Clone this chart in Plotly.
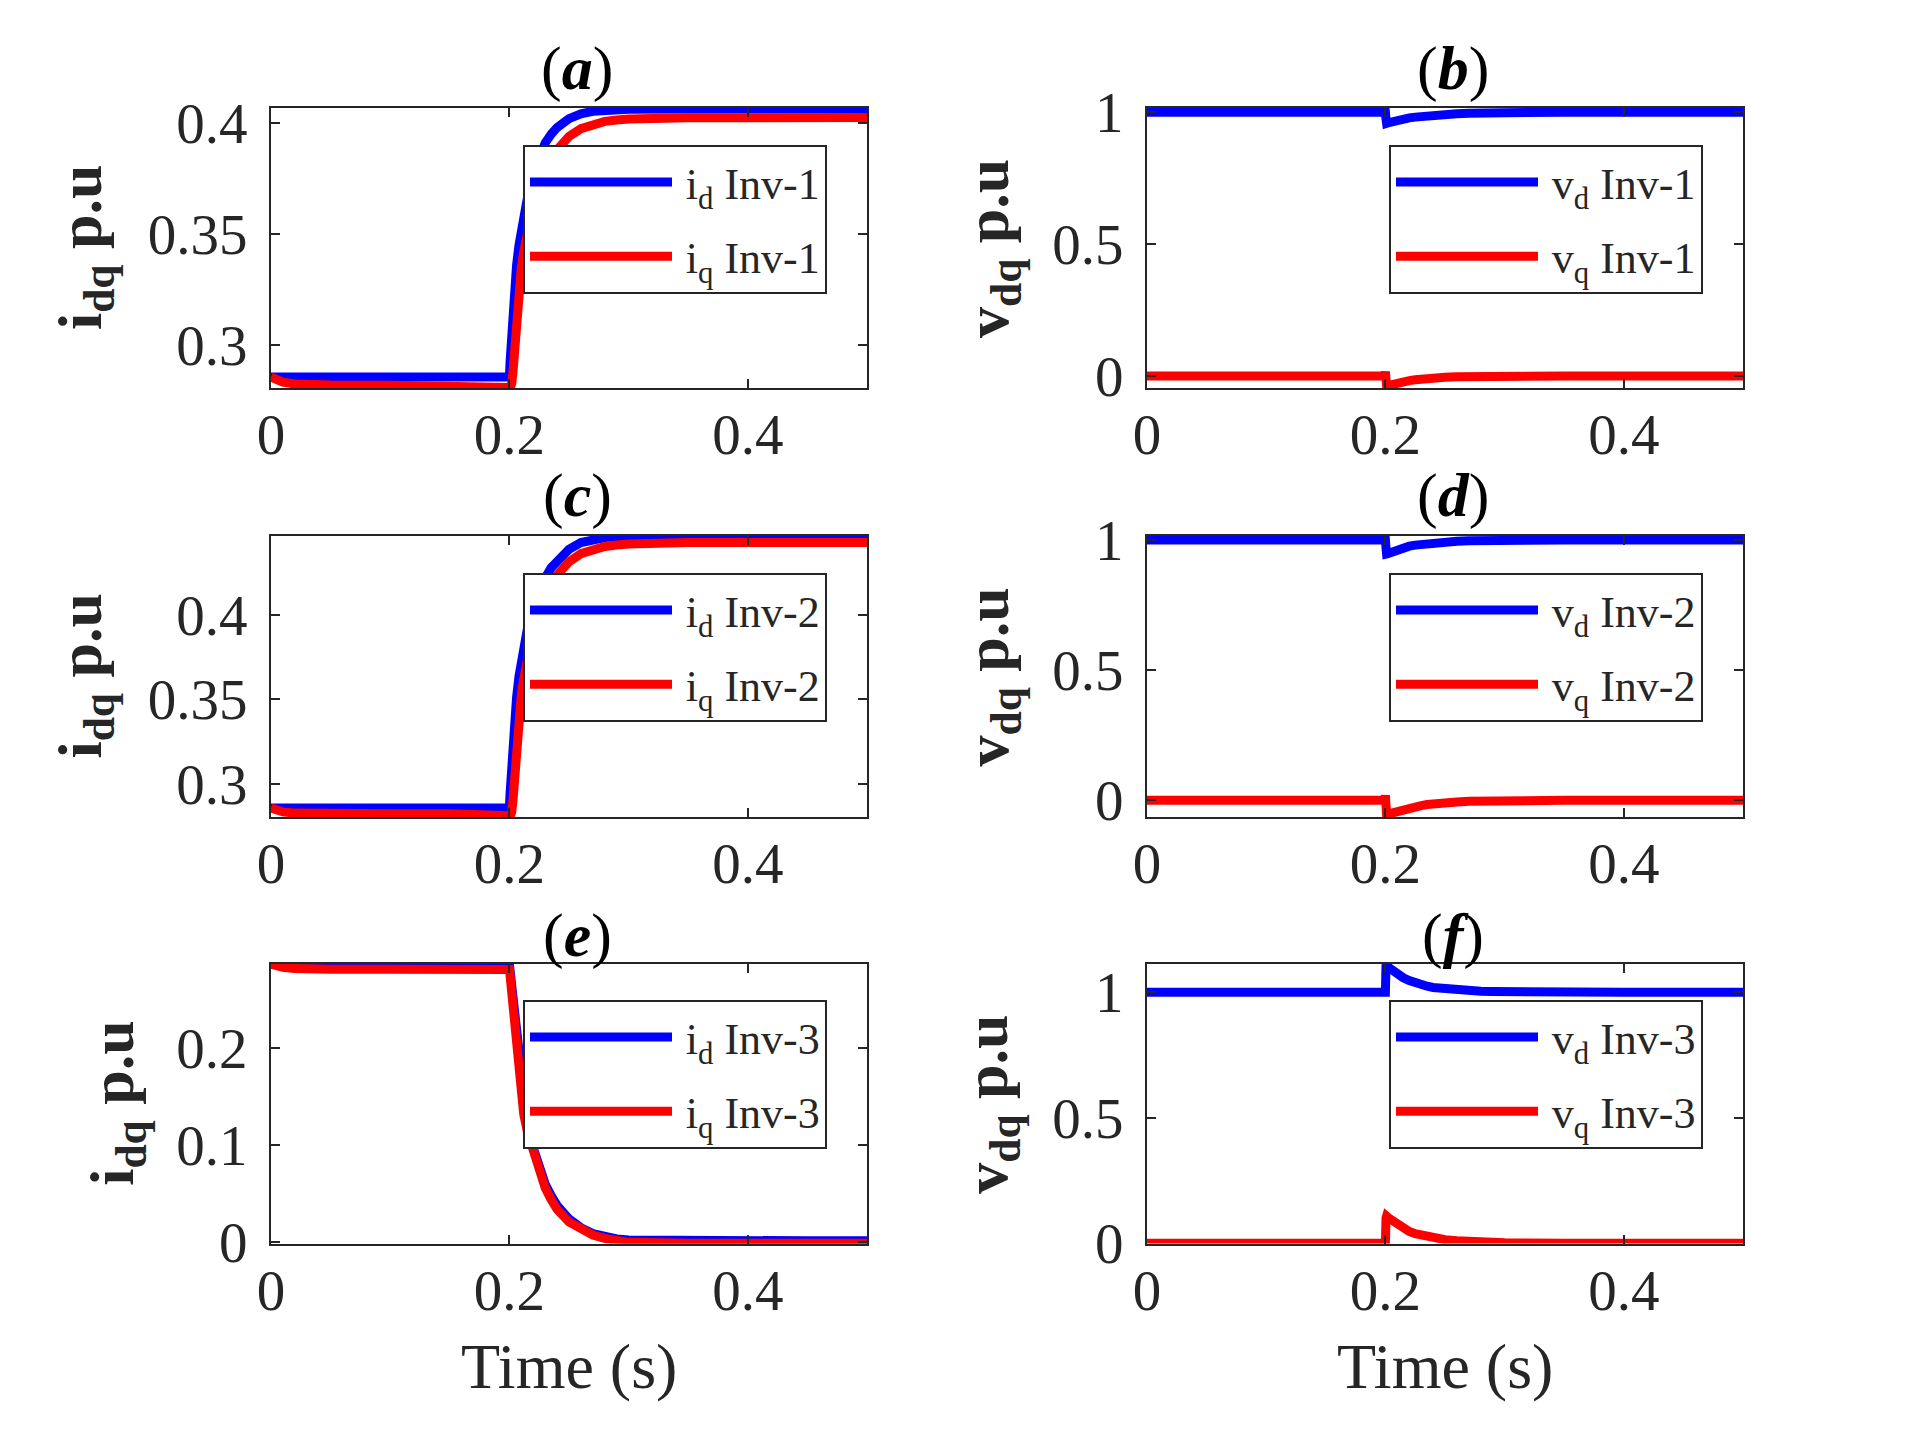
import plotly.graph_objects as go
from plotly.subplots import make_subplots

# ---------------- data ----------------
T = [0, 0.005, 0.01, 0.02, 0.03, 0.05, 0.1, 0.15, 0.1995, 0.2, 0.2005, 0.201, 0.202, 0.203,
     0.205, 0.206, 0.208, 0.21, 0.212, 0.215, 0.22, 0.225, 0.23, 0.235, 0.24, 0.25, 0.26,
     0.27, 0.28, 0.29, 0.3, 0.35, 0.4, 0.45, 0.5]

# (a) Inv-1 currents
a_id = [0.2857] * 10 + [0.292, 0.297, 0.305, 0.313, 0.330, 0.336, 0.345, 0.352, 0.358, 0.366,
                         0.377, 0.385, 0.391, 0.395, 0.398, 0.402, 0.4042, 0.4053, 0.4058, 0.406,
                         0.4062, 0.4063, 0.4063, 0.4063, 0.4063]
a_iq = [0.2857, 0.2843, 0.2834, 0.2826, 0.2823, 0.2821, 0.282, 0.282, 0.282, 0.281, 0.2803, 0.2808,
        0.283, 0.288, 0.305, 0.312, 0.325, 0.335, 0.342, 0.352, 0.364, 0.372, 0.379, 0.384, 0.388,
        0.394, 0.3975, 0.3995, 0.4008, 0.4014, 0.4018, 0.4024, 0.4025, 0.4025, 0.4025]
# (b) Inv-1 voltages
b_vd = [1.0] * 10 + [0.975, 0.9585, 0.96, 0.961, 0.964, 0.965, 0.968, 0.97, 0.972, 0.975, 0.979,
                      0.982, 0.985, 0.9875, 0.9895, 0.993, 0.995, 0.9965, 0.998, 0.9985, 0.999,
                      1.0, 1.0, 1.0, 1.0]
b_vq = [0.0] * 9 + [0.016, -0.01, -0.038, -0.037, -0.036, -0.033, -0.032, -0.0295, -0.027, -0.025,
                     -0.022, -0.018, -0.015, -0.012, -0.01, -0.008, -0.005, -0.0035, -0.0025,
                     -0.0015, -0.001, -0.0007, 0.0, 0.0, 0.0, 0.0]
# (c) Inv-2 currents
c_id = [0.2855] * 10 + [0.2935, 0.300, 0.311, 0.321, 0.3435, 0.351, 0.3635, 0.373, 0.381, 0.3915,
                         0.405, 0.415, 0.422, 0.428, 0.432, 0.439, 0.443, 0.445, 0.446, 0.4465,
                         0.4468, 0.447, 0.447, 0.447, 0.447]
c_iq = [0.2855, 0.2841, 0.2832, 0.2825, 0.2823, 0.2822, 0.2822, 0.2822, 0.2822, 0.281, 0.2802,
        0.2808, 0.2833, 0.290, 0.3128, 0.322, 0.339, 0.3528, 0.362, 0.3755, 0.3915, 0.4023, 0.4116,
        0.4182, 0.4237, 0.4316, 0.4364, 0.439, 0.4407, 0.4416, 0.4422, 0.443, 0.443, 0.443, 0.443]
# (d) Inv-2 voltages
d_vd = [1.0] * 10 + [0.97, 0.946, 0.947, 0.949, 0.953, 0.955, 0.958, 0.962, 0.965, 0.97, 0.976,
                      0.98, 0.983, 0.986, 0.988, 0.992, 0.995, 0.9965, 0.998, 0.9985, 0.999,
                      1.0, 1.0, 1.0, 1.0]
d_vq = [0.0] * 9 + [0.019, -0.02, -0.055, -0.054, -0.052, -0.049, -0.047, -0.044, -0.041, -0.038,
                     -0.035, -0.029, -0.024, -0.02, -0.016, -0.013, -0.009, -0.006, -0.004,
                     -0.0025, -0.0015, -0.001, 0.0, 0.0, 0.0, 0.0]
# (e) Inv-3 currents
e_id = [0.286] * 10 + [0.280, 0.274, 0.262, 0.249, 0.222, 0.209, 0.184, 0.159, 0.138, 0.120,
                        0.097, 0.076, 0.060, 0.048, 0.038, 0.024, 0.015, 0.009, 0.0055, 0.0035,
                        0.0025, 0.0016, 0.0015, 0.0015, 0.0015]
e_iq = [0.286, 0.2842, 0.2829, 0.2816, 0.2811, 0.2808, 0.2807, 0.2807, 0.2807, 0.2805, 0.275,
        0.268, 0.255, 0.242, 0.215, 0.202, 0.177, 0.152, 0.132, 0.114, 0.093, 0.071, 0.056, 0.044,
        0.034, 0.021, 0.013, 0.0075, 0.004, 0.0015, 0.0, -0.001, -0.001, -0.001, -0.001]
# (f) Inv-3 voltages
f_vd = [1.0] * 10 + [1.105, 1.11, 1.104, 1.098, 1.09, 1.086, 1.079, 1.072, 1.066, 1.058, 1.047,
                      1.037, 1.029, 1.024, 1.019, 1.013, 1.009, 1.006, 1.004, 1.003, 1.002,
                      1.0003, 1.0, 1.0, 1.0]
f_vq = [0.0] * 10 + [0.1, 0.108, 0.104, 0.1, 0.093, 0.09, 0.083, 0.076, 0.07, 0.06, 0.047, 0.038,
                      0.032, 0.026, 0.021, 0.0145, 0.0104, 0.007, 0.0045, 0.003, 0.002, 0.0003,
                      0.0, 0.0, 0.0]

X_TICKS = [0, 0.2, 0.4]
X_TICKTEXT = ["0", "0.2", "0.4"]
Y_TICKS_I12 = [0.3, 0.35, 0.4]
Y_TICKTEXT_I12 = ["0.3", "0.35", "0.4"]
Y_TICKS_I3 = [0, 0.1, 0.2]
Y_TICKTEXT_I3 = ["0", "0.1", "0.2"]
Y_TICKS_V = [0, 0.5, 1]
Y_TICKTEXT_V = ["0", "0.5", "1"]

PANEL_LETTERS = ["a", "b", "c", "d", "e", "f"]
INV_NAMES = ["Inv-1", "Inv-1", "Inv-2", "Inv-2", "Inv-3", "Inv-3"]

# ---------------- styling / layout ----------------
FONT = "Liberation Serif"
BLUE = "#0000FF"
RED = "#FF0000"
AX = "#262626"
W, H = 1926, 1443
OFF = 8  # page offset of the plot div


def px_x(v):
    return (v - OFF) / W


def px_y(v):
    return 1 - (v - OFF) / H


XD = {1: [px_x(271), px_x(867)], 2: [px_x(1147), px_x(1743)]}
YD = {1: [px_y(388), px_y(108)], 2: [px_y(817), px_y(536)], 3: [px_y(1243.5), px_y(964)]}

panels = [
    # row, col, d-series, q-series, symbol, yrange, ticks, ticktext
    (1, 1, a_id, a_iq, "i", [0.2808, 0.4068], Y_TICKS_I12, Y_TICKTEXT_I12),
    (1, 2, b_vd, b_vq, "v", [-0.046, 1.0166], Y_TICKS_V, Y_TICKTEXT_V),
    (2, 1, c_id, c_iq, "i", [0.2802, 0.4469], Y_TICKS_I12, Y_TICKTEXT_I12),
    (2, 2, d_vd, d_vq, "v", [-0.064, 1.015], Y_TICKS_V, Y_TICKTEXT_V),
    (3, 1, e_id, e_iq, "i", [-0.0012, 0.2862], Y_TICKS_I3, Y_TICKTEXT_I3),
    (3, 2, f_vd, f_vq, "v", [-0.001, 1.1127], Y_TICKS_V, Y_TICKTEXT_V),
]

fig = make_subplots(rows=3, cols=2)

legend_x = {1: px_x(523), 2: px_x(1389)}
legend_y = {1: px_y(145), 2: px_y(573), 3: px_y(1000)}
title_y = {1: px_y(68), 2: px_y(496), 3: px_y(935)}
title_x = {1: px_x(577), 2: px_x(1453)}
ylab_x = {(1, 1): 84, (2, 1): 84, (3, 1): 117, (1, 2): 991, (2, 2): 991, (3, 2): 991}

annotations = []
for k, (r, c, yd, yq, sym, yr, yt, ytt) in enumerate(panels, start=1):
    leg = "legend" if k == 1 else f"legend{k}"
    inv = INV_NAMES[k - 1]
    fig.add_trace(go.Scatter(x=T, y=yd, mode="lines", line=dict(color=BLUE, width=9),
                             name=f"&#8201;{sym}<sub>d</sub> {inv}", legend=leg,
                             legendgroup=f"g{k}d"),
                  row=r, col=c)
    fig.add_trace(go.Scatter(x=T, y=yq, mode="lines", line=dict(color=RED, width=9),
                             name=f"&#8201;{sym}<sub>q</sub> {inv}", legend=leg,
                             legendgroup=f"g{k}q"),
                  row=r, col=c)
    xa = "xaxis" if k == 1 else f"xaxis{k}"
    ya = "yaxis" if k == 1 else f"yaxis{k}"
    axis_common = dict(showline=True, linecolor=AX, linewidth=2, mirror="ticks", ticks="inside",
                       ticklen=9, tickwidth=2, tickcolor=AX, showgrid=False, zeroline=False,
                       automargin=False,
                       tickfont=dict(family=FONT, size=57, color="#262626"))
    fig.update_layout({
        xa: dict(domain=XD[c], range=[0, 0.5], tickvals=X_TICKS, ticktext=X_TICKTEXT,
                 ticklabelstandoff=-4, **axis_common),
        ya: dict(domain=YD[r], range=yr, tickvals=yt, ticktext=ytt,
                 ticklabelstandoff=10, **axis_common),
        leg: dict(x=legend_x[c], y=legend_y[r], xanchor="left", yanchor="top",
                  bgcolor="white", bordercolor=AX, borderwidth=2,
                  font=dict(family=FONT, size=44, color="#262626"),
                  itemwidth=142, tracegroupgap=14),
    })
    annotations.append(dict(text=f"(<b><i>{PANEL_LETTERS[k - 1]}</i></b>)", x=title_x[c],
                            y=title_y[r], xref="paper", yref="paper", showarrow=False,
                            xanchor="center", yanchor="middle",
                            font=dict(family=FONT, size=62, color="black")))
    annotations.append(dict(text=f"<b>{sym}<sub>dq</sub> p.u</b>", x=px_x(ylab_x[(r, c)]),
                            y=(YD[r][0] + YD[r][1]) / 2, xref="paper", yref="paper",
                            showarrow=False, textangle=-90, xanchor="center", yanchor="middle",
                            font=dict(family=FONT, size=62, color="#262626")))
    if r == 3:
        cx = (XD[c][0] + XD[c][1]) / 2
        annotations.append(dict(text="Time (s)", x=cx, y=px_y(1366), xref="paper", yref="paper",
                                showarrow=False, xanchor="center", yanchor="middle",
                                font=dict(family=FONT, size=64, color="#262626")))

fig.update_layout(template="none", width=W, height=H, margin=dict(l=0, r=0, t=0, b=0, pad=0),
                  paper_bgcolor="white", plot_bgcolor="white", showlegend=True,
                  annotations=annotations)

fig.write_html("out.html")
